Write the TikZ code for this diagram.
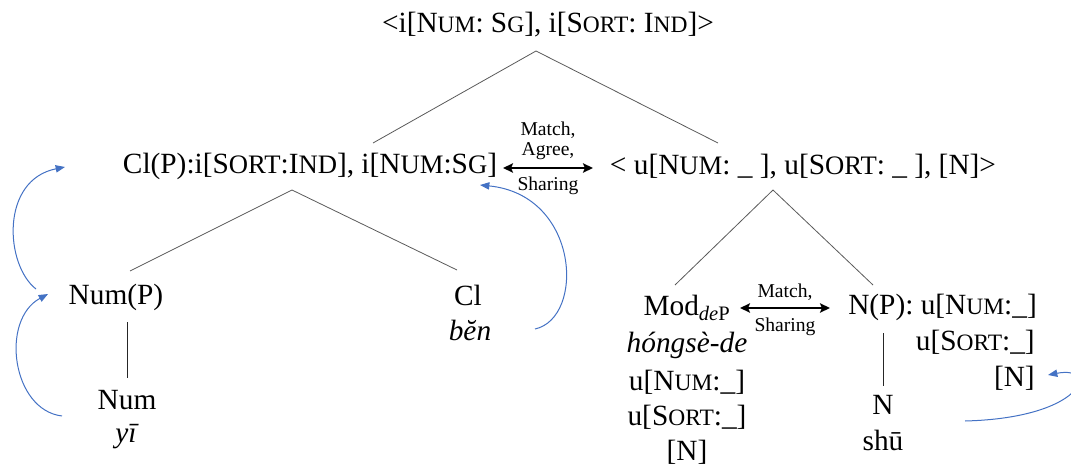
\documentclass[tikz,border=0pt]{standalone}
\usepackage{fontspec}
\setmainfont{Liberation Serif}
\usepackage{tikz}
\usetikzlibrary{arrows.meta}
\usetikzlibrary{positioning}
\definecolor{linkblue}{RGB}{68, 114, 196}
\newcommand{\fsc}[1]{{\fontsize{17.6pt}{20pt}\selectfont #1}}
\newcommand{\wsc}[1]{{\fontsize{20pt}{22pt}\selectfont #1}}
\tikzset{
  every node/.style={font=\fontsize{22pt}{27pt}\selectfont, inner sep=0},
  small/.style={font=\fontsize{14.7pt}{15pt}\selectfont, align=center},
  branch/.style={draw=black!65, line width=0.6pt},
  stem/.style={draw=black!85, line width=0.75pt},
  feature/.style={<->, >={Stealth[length=7.5pt,width=7pt,inset=1.5pt]}, line width=1.5pt},
  copy/.style={->, >={Triangle[length=7pt,width=5.5pt]}, draw=linkblue, line width=0.75pt}
}

\begin{document}
\begin{tikzpicture}[x=0.75pt, y=-0.75pt]
  \useasboundingbox (0,0) rectangle (1071,467);
  \clip (0,0) rectangle (1071,467);

  \node (top) at (548,25) {<i[N\fsc{UM}: S\fsc{G}], i[S\fsc{ORT}: I\fsc{ND}]>};
  \node (cl) at (310,166) {Cl(P):i[S\wsc{ORT}:I\wsc{ND}], i[N\wsc{UM}:S\wsc{G}]};
  \node (ur) at (803,167) {< u[N\wsc{UM}: \_ ], u[S\wsc{ORT}: \_ ], [N]>};

  \node (nump) at (116,297) {Num(P)};
  \node (num) at (127,400) {Num};
  \node (yi) at (127,437) {\textit{yī}};
  \node (clhead) at (468,295) {Cl};
  \node (ben) at (470,330) {\textit{bĕn}};

  \node (mod) at (687,308) {Mod\textsubscript{\textit{de}P}};
  \node (modlex) at (687,345) {\textit{hóngsè-de}};
  \node (modnum) at (687,382) {u[N\fsc{UM}:\_]};
  \node (modsort) at (687,417) {u[S\fsc{ORT}:\_]};
  \node (modn) at (687,452) {[N]};

  \node (np) [anchor=west] at (848,307) {N(P): u[N\fsc{UM}:\_]};
  \node (npsort) [anchor=east] at (1035,342) {u[S\fsc{ORT}:\_]};
  \node (npn) [anchor=east] at (1035,378) {[N]};
  \node (n) at (883,405) {N};
  \node (shu) at (883,440) {shū};

  \draw[branch] ([shift={(-12,26)}]top.center) -- ([shift={(63,-23)}]cl.center);
  \draw[branch] ([shift={(-12,26)}]top.center) -- ([shift={(-85,-24)}]ur.center);
  \draw[branch] ([shift={(-18,24)}]cl.center) -- ([shift={(14,-26)}]nump.center);
  \draw[branch] ([shift={(-18,24)}]cl.center) -- ([shift={(-11,-25)}]clhead.center);
  \draw[stem] ([shift={(11,25)}]nump.center) -- ([shift={(0,-22)}]num.center);
  \draw[branch] ([shift={(-30,23)}]ur.center) -- ([shift={(-12,-23)}]mod.center);
  \draw[branch] ([shift={(-30,23)}]ur.center) -- ([shift={(25,-22)}]np.west);
  \draw[stem] ([shift={(35,26)}]np.west) -- ([shift={(0,-19)}]n.center);

  \draw[feature] ([shift={(193,2)}]cl.center) -- ([shift={(-210,1)}]ur.center)
    node[small, midway, yshift=20.25pt] (agreeup) {Match,\\Agree,}
    node[small, midway, yshift=-13.5pt] (agreedown) {Sharing};
  \draw[feature] ([shift={(53,0)}]mod.center) -- ([shift={(-18,1)}]np.west)
    node[small, midway, yshift=12pt] (matchup) {Match,}
    node[small, midway, yshift=-14.25pt] (matchdown) {Sharing};

  \draw[copy] ([shift={(-65,16)}]num.center) .. controls +(-50,-6) and +(-48,26) .. ([shift={(-68,-3)}]nump.center);
  \draw[copy] ([shift={(-80,-8)}]nump.center) .. controls +(-31,-24) and +(-65,13) .. ([shift={(-245,1)}]cl.center);
  \draw[copy] ([shift={(65,-1)}]ben.center) .. controls +(50,-11) and +(100,10) .. ([shift={(170,19)}]cl.center);
  \draw[copy] ([shift={(82,16)}]n.center) .. controls +(120,-3) and +(52,-10) .. ([shift={(13,-3)}]npn.east);
\end{tikzpicture}
\end{document}
